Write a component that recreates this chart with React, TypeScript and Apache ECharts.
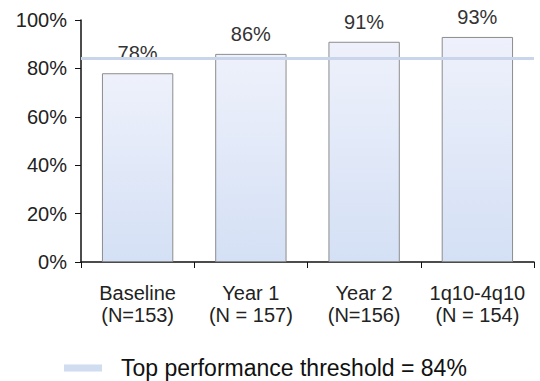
import React, { useEffect, useRef } from "react";
import * as echarts from "echarts";

const categories = ["Baseline\n(N=153)", "Year 1\n(N = 157)", "Year 2\n(N=156)", "1q10-4q10\n(N = 154)"];
const values = [78, 86, 91, 93];
const threshold = 84;
const thresholdName = "Top performance threshold = 84%";
const yTicks = { min: 0, max: 100, interval: 20 };

export default function App() {
  const ref = useRef<HTMLDivElement>(null);
  useEffect(() => {
    if (!ref.current) return;
    const chart = echarts.init(ref.current, undefined, { renderer: "svg" });
    const font = "Liberation Sans, Arial, sans-serif";
    chart.setOption({
      animation: false,
      backgroundColor: "#ffffff",
      textStyle: { fontFamily: font },
      grid: { left: 81, right: 6, top: 20, bottom: 119 },
      legend: {
        left: 64,
        top: 356,
        padding: 0,
        icon: "rect",
        itemWidth: 38,
        itemHeight: 7,
        data: [thresholdName],
        textStyle: { fontSize: 23, lineHeight: 24, color: "#111", fontFamily: font, padding: [0, 0, 0, 14] },
      },
      xAxis: {
        type: "category",
        data: categories,
        axisLine: { lineStyle: { color: "#111", width: 1.5 } },
        axisTick: { show: true, length: 6, lineStyle: { color: "#111" } },
        axisLabel: { fontSize: 20, lineHeight: 22, color: "#222", margin: 20, fontFamily: font, interval: 0 },
      },
      yAxis: {
        type: "value",
        min: yTicks.min,
        max: yTicks.max,
        interval: yTicks.interval,
        axisLine: { show: true, lineStyle: { color: "#111", width: 1.5 } },
        axisTick: { show: true, length: 6, lineStyle: { color: "#111" } },
        splitLine: { show: false },
        axisLabel: { formatter: "{value}%", fontSize: 20, color: "#222", margin: 14, fontFamily: font },
      },
      series: [
        {
          type: "bar",
          data: values,
          barWidth: "63%",
          z: 2,
          itemStyle: {
            color: new echarts.graphic.LinearGradient(0, 0, 0, 1, [
              { offset: 0, color: "#eef1fb" },
              { offset: 1, color: "#d4e0f5" },
            ]),
            borderColor: "#8c8c8c",
            borderWidth: 1,
          },
          label: {
            show: true,
            position: "top",
            distance: 10,
            formatter: "{c}%",
            fontSize: 20,
            color: "#333",
            fontFamily: font,
          },
        },
        {
          type: "line",
          name: thresholdName,
          data: [],
          z: 10,
          itemStyle: { color: "#d0dcef" },
          lineStyle: { color: "#d0dcef" },
          markLine: {
            silent: true,
            symbol: "none",
            label: { show: false },
            lineStyle: { color: "#c8d5ea", width: 3, type: "solid" },
            data: [{ yAxis: threshold }],
          },
        },
      ],
    });
    return () => chart.dispose();
  }, []);
  return <div ref={ref} style={{ width: 540, height: 381, position: "absolute", left: 0, top: 0 }} />;
}
